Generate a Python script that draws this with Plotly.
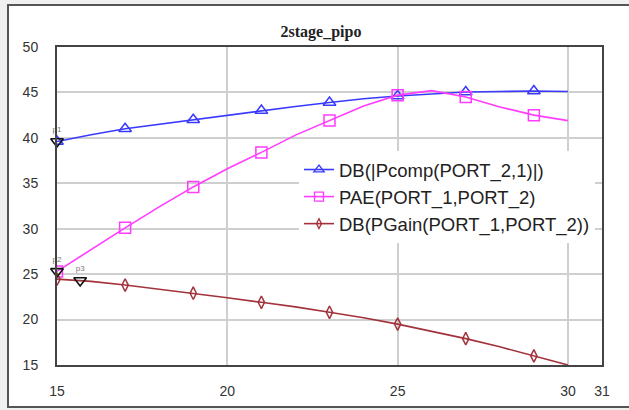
import plotly.graph_objects as go

# Swept input power (dBm)
pin = [15, 16, 17, 18, 19, 20, 21, 22, 23, 24, 25, 26, 27, 28, 29, 30]

# Output compression power, dB
pcomp_db = [39.6, 40.35, 41.0, 41.5, 42.0, 42.5, 43.0, 43.45, 43.9, 44.3,
            44.6, 44.85, 45.05, 45.1, 45.15, 45.1]
# Power-added efficiency, %
pae = [25.3, 27.7, 30.1, 32.4, 34.6, 36.6, 38.4, 40.3, 41.9, 43.5,
       44.7, 45.2, 44.5, 43.4, 42.5, 41.9]
# Power gain, dB
pgain_db = [24.45, 24.2, 23.8, 23.35, 22.9, 22.4, 21.9, 21.4, 20.8, 20.2,
            19.5, 18.7, 17.9, 17.0, 16.0, 15.0]

series_names = ["DB(|Pcomp(PORT_2,1)|)", "PAE(PORT_1,PORT_2)",
                "DB(PGain(PORT_1,PORT_2))"]
series_colors = ["#3a3aff", "#ff3cff", "#a3323c"]
series_symbols = ["triangle-up-open", "square-open", "diamond-tall-open"]
series_sizes = [11, 11, 9]

# Markers labelled p1..p3
marker_names = ["p1", "p2", "p3"]
marker_x = [15, 15, 15.68]
marker_y = [39.6, 25.3, 24.3]

x_ticks = [15, 20, 25, 30, 31]

W, H = 629, 410
ML, MR, MT, MB = 57, 27, 47, 45
PW, PH = W - ML - MR, H - MT - MB


def px_x(p):
    return (p - ML) / PW


def px_y(p):
    return 1 - (p - MT) / PH


fig = go.Figure()

for name, ys, col, sym, sz in zip(series_names, [pcomp_db, pae, pgain_db],
                                  series_colors, series_symbols, series_sizes):
    # continuous trace
    fig.add_trace(go.Scatter(x=pin, y=ys, mode="lines",
                             line=dict(color=col, width=1.6),
                             showlegend=False, hoverinfo="skip"))
    # symbols on every other sweep point
    fig.add_trace(go.Scatter(x=pin[::2], y=ys[::2], mode="markers",
                             marker=dict(symbol=sym, size=sz, color=col,
                                         line=dict(width=1.5, color=col)),
                             showlegend=False))
    # legend entry
    fig.add_trace(go.Scatter(x=[None], y=[None], mode="lines+markers", name=name,
                             line=dict(color=col, width=1.6),
                             marker=dict(symbol=sym, size=sz - 2, color=col,
                                         line=dict(width=1.3, color=col))))

fig.add_trace(go.Scatter(x=marker_x, y=marker_y, mode="markers+text",
                         text=marker_names, textposition="top center",
                         textfont=dict(size=8, color="#777", family="Arial"),
                         marker=dict(symbol="triangle-down-open", size=11,
                                     color="#111", line=dict(width=1.6, color="#111")),
                         showlegend=False, cliponaxis=False))

# outer window frame
fig.add_shape(type="rect", xref="paper", yref="paper", layer="below",
              x0=px_x(8), x1=px_x(640), y0=px_y(407), y1=px_y(5),
              fillcolor="white", line=dict(color="#555", width=2))

axis_font = dict(family="Arial", size=14, color="#333")

fig.update_layout(
    width=W, height=H,
    margin=dict(l=ML, r=MR, t=MT, b=MB),
    paper_bgcolor="#f0f0f0",
    plot_bgcolor="white",
    title=dict(text="<b>2stage_pipo</b>", x=321 / W, xanchor="center",
               y=1 - 31 / H, yanchor="middle",
               font=dict(family="Liberation Serif", size=16, color="#222")),
    xaxis=dict(range=[15, 31], tickmode="array", tickvals=x_ticks,
               ticktext=[str(v) for v in x_ticks], showgrid=True,
               gridcolor="#cfcfcf", gridwidth=1.5, zeroline=False,
               showline=True, mirror=True, linecolor="#444", linewidth=2,
               ticks="", ticklabelstandoff=12, tickfont=axis_font),
    yaxis=dict(range=[15, 50], dtick=5, showgrid=True,
               gridcolor="#cfcfcf", gridwidth=1.5, zeroline=False,
               showline=True, mirror=True, linecolor="#444", linewidth=2,
               ticks="", ticklabelstandoff=14, tickfont=axis_font),
    legend=dict(x=px_x(299), y=px_y(151), xanchor="left", yanchor="top",
                bgcolor="white", borderwidth=0,
                font=dict(family="Arial", size=18.5, color="#222"),
                tracegroupgap=0),
    showlegend=True,
)

fig.write_html("out.html")
